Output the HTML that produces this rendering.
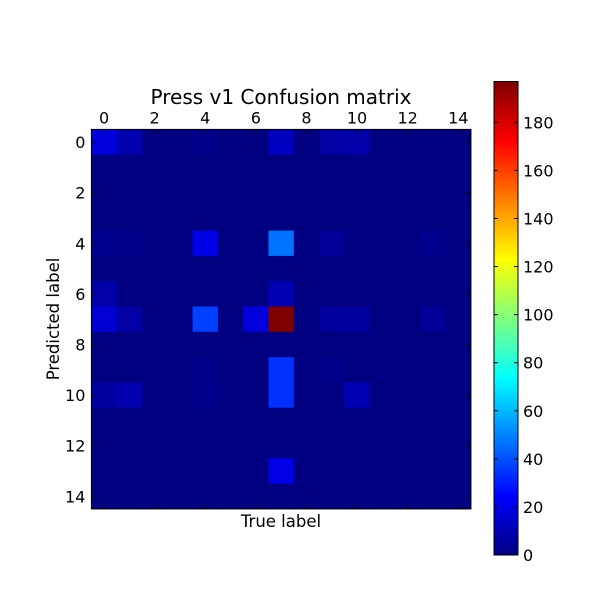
<!DOCTYPE html>
<html><head><meta charset="utf-8"><style>body{margin:0;background:#fff}svg{display:block;font-family:"DejaVu Sans","Liberation Sans",sans-serif}</style></head>
<body>
<svg id="c" width="612" height="612"></svg>
<script>
const rowLabels=[0,1,2,3,4,5,6,7,8,9,10,11,12,13,14];
const colLabels=[0,1,2,3,4,5,6,7,8,9,10,11,12,13,14];
const tickLabels=[0,2,4,6,8,10,12,14];
const cbTicks=[0,20,40,60,80,100,120,140,160,180];
const vmax=197;
const matrix=[
[18,9,0,0,2,0,0,12,0,7,8,0,0,0,0],
[0,0,0,0,0,0,0,0,0,0,0,0,0,0,0],
[0,0,0,0,0,0,0,0,0,0,0,0,0,0,0],
[0,0,0,0,0,0,0,0,0,0,0,0,0,0,0],
[3,2,0,0,20,0,0,47,0,5,0,0,0,3,0],
[0,0,0,0,0,0,0,0,0,0,0,0,0,0,0],
[8,0,0,0,0,0,0,10,0,0,0,0,0,0,0],
[16,7,0,0,37,0,18,197,0,6,6,0,0,5,0],
[0,0,0,0,0,0,0,0,0,0,0,0,0,0,0],
[0,0,0,0,2,0,0,34,0,2,0,0,0,0,0],
[6,9,0,0,3,0,0,34,0,0,10,0,0,0,0],
[0,0,0,0,0,0,0,0,0,0,0,0,0,0,0],
[0,0,0,0,0,0,0,0,0,0,0,0,0,0,0],
[0,0,0,0,0,0,0,20,0,0,0,0,0,0,0],
[0,0,0,0,0,0,0,0,0,0,0,0,0,0,0]];
const NS="http://www.w3.org/2000/svg",svg=document.getElementById('c');
function el(t,a,p){const e=document.createElementNS(NS,t);for(const k in a)e.setAttribute(k,a[k]);(p||svg).appendChild(e);return e;}
function jet(f){f=Math.max(0,Math.min(1,f));
 const c=x=>Math.max(0,Math.min(1,x));
 const r=c(Math.min(4*f-1.5,-4*f+4.5)),g=c(Math.min(4*f-0.5,-4*f+3.5)),b=c(Math.min(4*f+0.5,-4*f+2.5));
 return `rgb(${Math.round(r*255)},${Math.round(g*255)},${Math.round(b*255)})`;}
const L=91.4,T=129.4,S=25.3,N=15;
const xs=i=>L+(i+0.5)*S, ys=i=>T+(i+0.5)*S;
matrix.forEach((row,i)=>row.forEach((v,j)=>{
 const r=el('rect',{x:xs(j)-S/2,y:ys(i)-S/2,width:S+0.4,height:S+0.4,fill:jet(v/vmax)});
 
 
}));
const fr=el('rect',{x:L,y:T,width:S*N,height:S*N,fill:'none',stroke:'#000','stroke-width':1});

tickLabels.forEach(t=>{
 el('line',{x1:xs(t),x2:xs(t),y1:T,y2:T+4,stroke:'#000'});
 el('line',{x1:xs(t),x2:xs(t),y1:T+S*N,y2:T+S*N-4,stroke:'#000'});
 el('line',{x1:L,x2:L+4,y1:ys(t),y2:ys(t),stroke:'#000'});
 el('line',{x1:L+S*N,x2:L+S*N-4,y1:ys(t),y2:ys(t),stroke:'#000'});
 const a=el('text',{x:xs(t),y:T-6,'text-anchor':'middle','font-size':16});a.textContent=t;
 
 const b=el('text',{x:L-6,y:ys(t)+6,'text-anchor':'end','font-size':16});b.textContent=t;
 
});
const ti=el('text',{x:281,y:104,'text-anchor':'middle','font-size':20});ti.textContent='Press v1 Confusion matrix';

const xl=el('text',{x:281,y:527,'text-anchor':'middle','font-size':16.5});xl.textContent='True label';

const yl=el('text',{x:59,y:319,'text-anchor':'middle','font-size':16.5,transform:'rotate(-90 59 319)'});yl.textContent='Predicted label';

const CX=494,CW=24,CB=555,CT=81.5;
const cy=v=>CB-(v/vmax)*(CB-CT);
const g=el('g',{});
for(let k=0;k<200;k++){const v0=k/200*vmax,v1=(k+1)/200*vmax;
 el('rect',{x:CX,y:cy(v1),width:CW,height:cy(v0)-cy(v1)+0.5,fill:jet((v0+v1)/2/vmax)},g);}
el('rect',{x:CX,y:CT,width:CW,height:CB-CT,fill:'none',stroke:'#000'},g);
cbTicks.forEach(t=>{
 el('line',{x1:CX,x2:CX+4,y1:cy(t),y2:cy(t),stroke:'#000'},g);
 el('line',{x1:CX+CW,x2:CX+CW-4,y1:cy(t),y2:cy(t),stroke:'#000'},g);
 const tx=el('text',{x:CX+CW+5,y:cy(t)+6,'font-size':16},g);tx.textContent=t;
 
});
</script>
</body></html>
